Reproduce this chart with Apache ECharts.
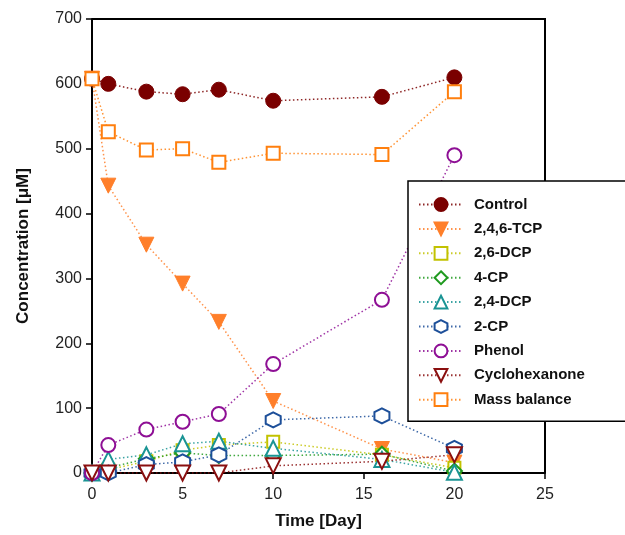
<!DOCTYPE html>
<html>
<head>
<meta charset="utf-8">
<script src="https://cdn.jsdelivr.net/npm/echarts@6/dist/echarts.min.js"></script>
<style>
  html, body { margin: 0; padding: 0; background: #fff; }
  #chart { width: 625px; height: 535px; }
</style>
</head>
<body>
<div id="chart"></div>
<script>
// sampling days
var days = [0, 0.9, 3, 5, 7, 10, 16, 20];

// concentrations in uM, one array per compound
var control = [608, 600, 588, 584, 591, 574, 580, 610];
var tcp = [608, 443, 352, 292, 233, 111, 37, 16];
var dcp26 = [0, 5, 18, 35, 43, 48, 28, 8];
var cp4 = [0, 8, 22, 31, 27, 27, 29, 3];
var dcp24 = [0, 21, 28, 45, 49, 38, 21, 1];
var cp2 = [0, 0, 13, 17, 28, 82, 88, 38];
var phenol = [0, 43, 67, 79, 91, 168, 267, 490];
var cyclohexanone = [0, 0, 0, 0, 0, 11, 18, 28];
var massBalance = [608, 526, 498, 500, 479, 493, 491, 588];

var hexagon = "path://M0,-10 L8.66,-5 L8.66,5 L0,10 L-8.66,5 L-8.66,-5 Z";

function pairs(vals) {
  return vals.map(function (v, i) { return [days[i], v]; });
}

function makeSeries(name, vals, color, symbol, size, filled, rotate) {
  return {
    name: name,
    type: "line",
    data: pairs(vals),
    symbol: symbol,
    symbolSize: size,
    symbolRotate: rotate || 0,
    showAllSymbol: true,
    lineStyle: { color: color, width: 1.5, type: [1.5, 2.5], opacity: 0.85 },
    itemStyle: filled
      ? { color: color, borderColor: color, borderWidth: 1 }
      : { color: "#fff", borderColor: color, borderWidth: 2 },
    emphasis: { disabled: true },
  };
}

var chart = echarts.init(document.getElementById("chart"));

var option = {
  animation: false,
  textStyle: { fontFamily: "Liberation Sans, Arial, sans-serif" },
  grid: { left: 92, right: 80, top: 19, bottom: 62 },
  legend: {
    left: 408,
    top: 181,
    orient: "vertical",
    padding: [16, 60, 14, 10],
    itemWidth: 44,
    itemHeight: 16,
    itemGap: 9.4,
    borderColor: "#000",
    borderWidth: 1.5,
    backgroundColor: "#fff",
    textStyle: {
      fontSize: 15,
      fontWeight: "bold",
      color: "#111",
      padding: [0, 0, 0, 6],
    },
  },
  xAxis: {
    type: "value",
    min: 0,
    max: 25,
    interval: 5,
    name: "Time [Day]",
    nameLocation: "middle",
    nameGap: 40,
    nameTextStyle: { fontSize: 17, fontWeight: "bold", color: "#111" },
    axisLine: { show: true, lineStyle: { color: "#000", width: 2 } },
    axisTick: { show: true, inside: false, length: 6, lineStyle: { color: "#000", width: 1.5 } },
    axisLabel: { fontSize: 16, color: "#222", margin: 14 },
    splitLine: { show: false },
  },
  yAxis: {
    type: "value",
    min: 0,
    max: 700,
    interval: 100,
    name: "Concentration [μM]",
    nameLocation: "middle",
    nameGap: 60,
    nameTextStyle: { fontSize: 17, fontWeight: "bold", color: "#111" },
    axisLine: { show: true, lineStyle: { color: "#000", width: 2 } },
    axisTick: { show: true, inside: false, length: 6, lineStyle: { color: "#000", width: 1.5 } },
    axisLabel: { fontSize: 16, color: "#222", margin: 10 },
    splitLine: { show: false },
  },
  graphic: [],
  series: [
    makeSeries("Control", control, "#7a0000", "circle", 15, true),
    makeSeries("2,4,6-TCP", tcp, "#ff7f2a", "triangle", 15, true, 180),
    makeSeries("2,6-DCP", dcp26, "#c2c200", "rect", 12, false),
    makeSeries("4-CP", cp4, "#1f9a1f", "diamond", 15, false),
    makeSeries("2,4-DCP", dcp24, "#1a9494", "triangle", 15, false),
    makeSeries("2-CP", cp2, "#1d4f99", hexagon, 15, false),
    makeSeries("Phenol", phenol, "#8e0f95", "circle", 14, false),
    makeSeries("Cyclohexanone", cyclohexanone, "#8a0f0f", "triangle", 15, false, 180),
    makeSeries("Mass balance", massBalance, "#ff7f0e", "rect", 13, false),
  ],
};

chart.setOption(option);

// right and top frame of the plot area
var rect = chart.getModel().getComponent("grid").coordinateSystem.getRect();
chart.setOption({
  graphic: [
    {
      type: "polyline",
      z: 1,
      shape: {
        points: [
          [rect.x, rect.y],
          [rect.x + rect.width, rect.y],
          [rect.x + rect.width, rect.y + rect.height],
        ],
      },
      style: { stroke: "#000", lineWidth: 2, fill: null },
    },
  ],
});
</script>
</body>
</html>
